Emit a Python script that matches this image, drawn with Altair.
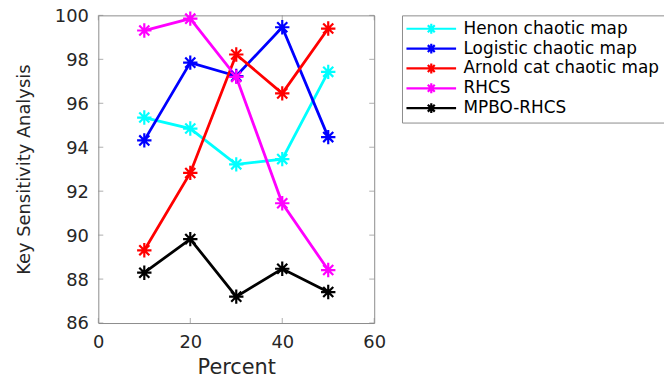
import altair as alt
import pandas as pd

percent = [10, 20, 30, 40, 50]
series_names = ["Henon chaotic map", "Logistic chaotic map", "Arnold cat chaotic map", "RHCS", "MPBO-RHCS"]
henon = [95.35, 94.85, 93.22, 93.46, 97.43]
logistic = [94.31, 97.85, 97.24, 99.46, 94.46]
arnold = [89.31, 92.83, 98.22, 96.45, 99.40]
rhcs = [99.31, 99.85, 97.20, 91.45, 88.41]
mpbo = [88.29, 89.82, 87.20, 88.47, 87.41]
colors = ["#00ffff", "#0000ff", "#ff0000", "#ff00ff", "#000000"]
x_ticks = [0, 20, 40, 60]
y_ticks = [86, 88, 90, 92, 94, 96, 98, 100]

rows = []
for name, vals in zip(series_names, [henon, logistic, arnold, rhcs, mpbo]):
    for p, v in zip(percent, vals):
        rows.append({"Percent": p, "Value": v, "Series": name})
df = pd.DataFrame(rows)

W, H = 278, 310
GRAY = "#8c8c8c"
TXT = "#262626"
FONT = "DejaVu Sans"

asterisk = "M0,-1V1M-1,0H1M-0.7,-0.7L0.7,0.7M-0.7,0.7L0.7,-0.7"
legend_sym = "M-5,0H5M0,-1V1M-1,0H1M-0.7,-0.7L0.7,0.7M-0.7,0.7L0.7,-0.7"

xscale = alt.Scale(domain=[0, 60], nice=False)
yscale = alt.Scale(domain=[86, 100], nice=False)

xenc = alt.X("Percent:Q", scale=xscale, title="Percent",
             axis=alt.Axis(values=x_ticks, labelPadding=11, titlePadding=5, labelFlush=False))
yenc = alt.Y("Value:Q", scale=yscale, title="Key Sensitivity Analysis",
             axis=alt.Axis(values=y_ticks, labelPadding=10, titlePadding=21, labelOffset=1,
                           labelFlush=False))

color = alt.Color(
    "Series:N",
    scale=alt.Scale(domain=series_names, range=colors),
    legend=alt.Legend(
        title=None, orient="none", legendX=306, legendY=0,
        symbolType=legend_sym, symbolSize=100, symbolStrokeWidth=2.2,
        symbolOffset=16, labelOffset=24,
        labelFont=FONT, labelFontSize=17, labelColor="#000000", labelLimit=400,
        padding=5, rowPadding=1, strokeColor=GRAY, fillColor="white",
    ),
)

base = alt.Chart(df)
lines = base.mark_line(strokeWidth=2.8).encode(x=xenc, y=yenc, color=color)
points = base.mark_point(shape=asterisk, filled=False, size=210, strokeWidth=2.2, opacity=1).encode(
    x=xenc, y=yenc, color=color)

yt = pd.DataFrame({"Value": y_ticks})
xt = pd.DataFrame({"Percent": x_ticks})
yt_enc = alt.Y("Value:Q", scale=yscale, title="Key Sensitivity Analysis")
xt_enc = alt.X("Percent:Q", scale=xscale, title="Percent")

tick_l = alt.Chart(yt).mark_tick(orient="horizontal", color=GRAY, thickness=1, size=5).encode(
    y=yt_enc, x=alt.value(2.5))
tick_r = alt.Chart(yt).mark_tick(orient="horizontal", color=GRAY, thickness=1, size=5).encode(
    y=yt_enc, x=alt.value(W - 2.5))
tick_b = alt.Chart(xt).mark_tick(orient="vertical", color=GRAY, thickness=1, size=5).encode(
    x=xt_enc, y=alt.value(H - 2.5))
tick_t = alt.Chart(xt).mark_tick(orient="vertical", color=GRAY, thickness=1, size=5).encode(
    x=xt_enc, y=alt.value(2.5))

chart = alt.layer(tick_l, tick_r, tick_b, tick_t, lines, points).properties(
    width=W, height=H,
    autosize=alt.AutoSizeParams(type="none"),
    padding={"left": 91, "top": 6, "right": 292, "bottom": 58},
).configure_view(
    stroke=GRAY, strokeWidth=1
).configure_axis(
    domain=False, ticks=False, grid=False,
    labelFont=FONT, labelFontSize=18, labelColor=TXT,
    titleFont=FONT, titleFontSize=21, titleColor=TXT, titleFontWeight="normal",
).configure_axisY(
    titleFontSize=18
)

chart.save("out.html", embed_options={"renderer": "svg", "actions": False})
